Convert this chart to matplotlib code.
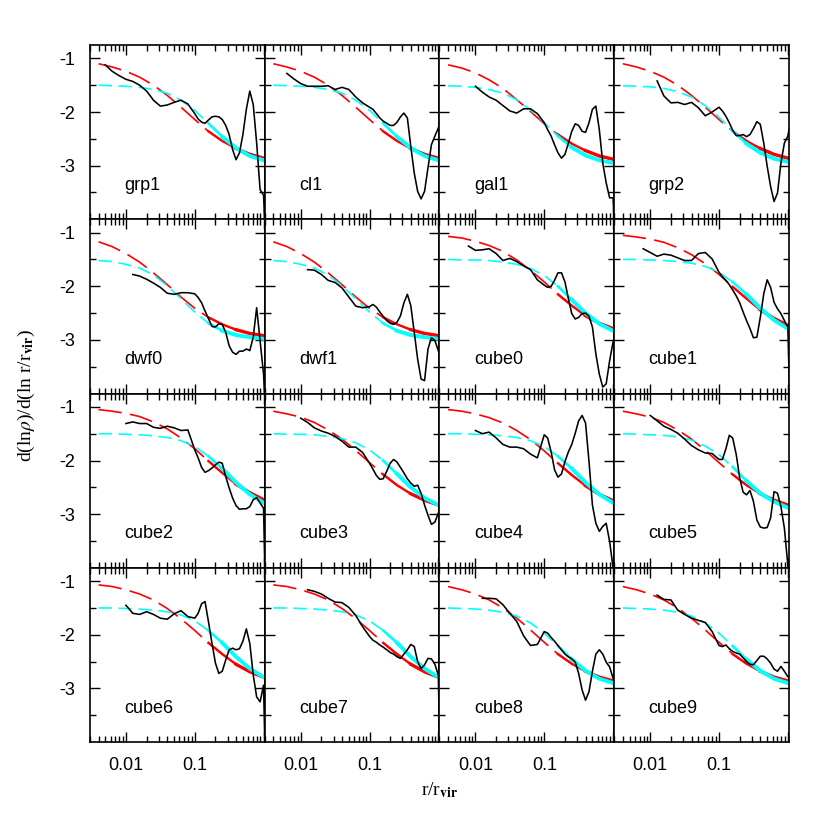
import numpy as np
import matplotlib
matplotlib.use('Agg')
import matplotlib.pyplot as plt
from matplotlib.ticker import FixedLocator, FixedFormatter, NullFormatter

plt.rcParams['font.family'] = ['Liberation Sans', 'DejaVu Sans']
plt.rcParams['mathtext.fontset'] = 'stix'
plt.rcParams['axes.unicode_minus'] = False

nan = float('nan')

# panel names, row by row
NAMES = ['grp1', 'cl1', 'gal1', 'grp2',
         'dwf0', 'dwf1', 'cube0', 'cube1',
         'cube2', 'cube3', 'cube4', 'cube5',
         'cube6', 'cube7', 'cube8', 'cube9']

# radii where the fitted slopes were read
R_FIT = [0.004, 0.0063, 0.01, 0.0158, 0.0251, 0.0398, 0.0631, 0.1, 0.158, 0.251, 0.398, 0.631, 1.0]

# red (long dash) fit slopes, grouped by shape
RED_A = [-1.10, -1.16, -1.24, -1.35, -1.50, -1.69, -1.91, -2.14, -2.36, -2.54, -2.68, -2.79, -2.86]
RED_B = [-1.12, -1.18, -1.27, -1.40, -1.56, -1.77, -1.99, -2.22, -2.42, -2.59, -2.72, -2.82, -2.88]
RED_C = [-1.17, -1.26, -1.39, -1.55, -1.75, -1.97, -2.20, -2.41, -2.58, -2.71, -2.81, -2.88, -2.92]
RED_D = [-1.08, -1.13, -1.19, -1.29, -1.43, -1.60, -1.81, -2.04, -2.26, -2.46, -2.62, -2.74, -2.83]
RED_E = [-1.07, -1.10, -1.16, -1.24, -1.35, -1.51, -1.70, -1.92, -2.15, -2.36, -2.55, -2.69, -2.79]
RED_F = [-1.05, -1.08, -1.13, -1.20, -1.30, -1.44, -1.61, -1.82, -2.05, -2.27, -2.47, -2.63, -2.75]
RED_G = [-1.05, -1.08, -1.12, -1.18, -1.28, -1.41, -1.58, -1.78, -2.01, -2.23, -2.44, -2.60, -2.73]

# cyan (short dash) fit slopes
CYAN_A = [-1.52, -1.54, -1.59, -1.66, -1.79, -1.99, -2.23, -2.48, -2.69, -2.83, -2.91, -2.95, -2.98]
CYAN_B = [-1.51, -1.52, -1.54, -1.58, -1.65, -1.77, -1.96, -2.20, -2.45, -2.66, -2.81, -2.90, -2.95]
CYAN_C = [-1.51, -1.52, -1.53, -1.56, -1.62, -1.72, -1.88, -2.10, -2.36, -2.59, -2.76, -2.87, -2.93]
CYAN_D = [-1.50, -1.51, -1.52, -1.54, -1.58, -1.65, -1.78, -1.97, -2.21, -2.46, -2.67, -2.82, -2.90]
CYAN_E = [-1.50, -1.51, -1.52, -1.53, -1.56, -1.62, -1.73, -1.89, -2.12, -2.38, -2.61, -2.77, -2.88]
CYAN_F = [-1.50, -1.51, -1.51, -1.52, -1.55, -1.59, -1.67, -1.80, -2.00, -2.25, -2.50, -2.70, -2.83]
CYAN_G = [-1.50, -1.50, -1.51, -1.52, -1.54, -1.57, -1.63, -1.74, -1.92, -2.15, -2.41, -2.63, -2.79]

RED_FIT = [RED_A, RED_A, RED_B, RED_A,
           RED_C, RED_C, RED_E, RED_G,
           RED_G, RED_D, RED_F, RED_D,
           RED_E, RED_E, RED_A, RED_A]
CYAN_FIT = [CYAN_D, CYAN_D, CYAN_B, CYAN_C,
            CYAN_A, CYAN_A, CYAN_F, CYAN_G,
            CYAN_G, CYAN_F, CYAN_G, CYAN_E,
            CYAN_G, CYAN_G, CYAN_D, CYAN_D]

# radii of the measured (black) slope curves
R_DATA = [0.005, 0.0063, 0.0079, 0.01, 0.0126, 0.0158, 0.02, 0.0251, 0.0316, 0.0398,
          0.0501, 0.0631, 0.0794, 0.1, 0.112, 0.126, 0.141, 0.158, 0.178, 0.2,
          0.224, 0.251, 0.282, 0.316, 0.355, 0.398, 0.447, 0.501, 0.562, 0.631,
          0.708, 0.794, 0.891, 1.0, 1.05]

BLACK = [
    # grp1
    [-1.12, -1.24, -1.32, -1.39, -1.43, -1.50, -1.61, -1.78, -1.89, -1.87, -1.82, -1.78, -1.85,
     -2.03, -2.13, -2.19, -2.21, -2.15, -2.09, -2.08, -2.09, -2.14, -2.25, -2.42, -2.70, -2.89,
     -2.76, -2.42, -1.95, -1.61, -1.86, -2.58, -3.45, -3.55, -4.2],
    # cl1
    [nan, -1.28, -1.38, -1.47, -1.52, -1.52, -1.52, -1.51, -1.58, -1.54, -1.58, -1.72, -1.83,
     -1.91, -1.95, -2.03, -2.11, -2.17, -2.21, -2.25, -2.25, -2.19, -2.09, -2.02, -2.11, -2.64,
     -3.14, -3.48, -3.62, -3.48, -3.04, -2.61, -2.45, -2.30, -2.2],
    # gal1
    [nan, nan, nan, -1.52, -1.63, -1.72, -1.78, -1.88, -1.98, -2.02, -1.94, -1.94, -2.03,
     -2.20, -2.33, -2.45, -2.61, -2.76, -2.86, -2.79, -2.58, -2.36, -2.22, -2.25, -2.36, -2.38,
     -2.20, -1.95, -1.89, -2.33, -2.95, -3.32, -3.60, -3.60, -4.2],
    # grp2
    [nan, nan, nan, nan, -1.42, -1.70, -1.83, -1.82, -1.86, -1.82, -1.92, -2.07, -2.00,
     -1.91, -1.98, -2.08, -2.20, -2.34, -2.44, -2.44, -2.42, -2.46, -2.42, -2.31, -2.18, -2.23,
     -2.58, -3.01, -3.39, -3.67, -3.51, -2.95, -2.58, -2.45, -2.3],
    # dwf0
    [nan, nan, nan, nan, -1.78, -1.81, -1.87, -1.94, -2.02, -2.13, -2.15, -2.12, -2.12,
     -2.14, -2.21, -2.31, -2.46, -2.60, -2.75, -2.76, -2.70, -2.71, -2.86, -3.11, -3.23, -3.27,
     -3.21, -3.21, -3.17, -3.20, -2.95, -2.40, -3.02, -3.64, -4.2],
    # dwf1
    [nan, nan, nan, nan, -1.69, -1.70, -1.78, -1.89, -1.93, -2.03, -2.20, -2.37, -2.40,
     -2.38, -2.34, -2.39, -2.48, -2.56, -2.64, -2.69, -2.71, -2.67, -2.55, -2.31, -2.15, -2.36,
     -2.86, -3.36, -3.73, -3.76, -3.17, -2.96, -3.01, -3.20, -3.3],
    # cube0
    [nan, nan, -1.25, -1.33, -1.32, -1.30, -1.39, -1.52, -1.48, -1.54, -1.62, -1.69, -1.88,
     -1.98, -2.02, -2.00, -1.89, -1.75, -1.75, -1.92, -2.23, -2.51, -2.61, -2.58, -2.51, -2.50,
     -2.56, -2.76, -3.26, -3.64, -3.88, -3.82, -3.39, -3.04, -2.95],
    # cube1
    [nan, nan, -1.30, -1.37, -1.44, -1.40, -1.42, -1.47, -1.52, -1.52, -1.39, -1.37, -1.49,
     -1.74, -1.82, -1.89, -1.97, -2.07, -2.18, -2.31, -2.48, -2.64, -2.79, -2.96, -2.95, -2.58,
     -2.14, -1.88, -2.02, -2.30, -2.42, -2.51, -2.64, -2.76, -3.8],
    # cube2
    [nan, nan, nan, -1.31, -1.28, -1.31, -1.31, -1.38, -1.40, -1.36, -1.39, -1.44, -1.43,
     -1.80, -1.95, -2.13, -2.22, -2.19, -2.14, -2.08, -2.03, -2.05, -2.30, -2.51, -2.70, -2.84,
     -2.91, -2.90, -2.90, -2.86, -2.73, -2.69, -2.79, -2.89, -4.2],
    # cube3
    [nan, nan, nan, -1.21, -1.29, -1.39, -1.45, -1.49, -1.55, -1.64, -1.75, -1.75, -1.85,
     -2.05, -2.16, -2.28, -2.35, -2.34, -2.20, -2.05, -1.98, -2.03, -2.13, -2.23, -2.34, -2.42,
     -2.48, -2.46, -2.61, -2.83, -3.02, -3.19, -3.15, -2.98, -2.95],
    # cube4
    [nan, nan, nan, -1.44, -1.50, -1.47, -1.58, -1.70, -1.75, -1.75, -1.78, -1.88, -1.95,
     -1.52, -1.58, -1.84, -2.17, -2.31, -2.25, -2.02, -1.84, -1.70, -1.49, -1.26, -1.16, -1.30,
     -2.02, -2.83, -3.17, -3.32, -3.23, -3.17, -3.51, -4.0, -4.3],
    # cube5
    [nan, nan, nan, -1.16, -1.26, -1.36, -1.42, -1.49, -1.60, -1.72, -1.80, -1.86, -1.87,
     -1.98, -1.98, -1.78, -1.53, -1.58, -1.89, -2.33, -2.59, -2.64, -2.56, -2.76, -3.11, -3.24,
     -3.26, -3.25, -3.07, -2.58, -2.61, -2.86, -3.26, -3.95, -4.3],
    # cube6
    [nan, nan, nan, -1.45, -1.60, -1.62, -1.57, -1.62, -1.69, -1.71, -1.61, -1.55, -1.66,
     -1.69, -1.60, -1.42, -1.38, -1.75, -2.16, -2.53, -2.72, -2.68, -2.47, -2.28, -2.25, -2.28,
     -2.26, -2.12, -1.89, -2.16, -2.75, -3.16, -3.25, -2.94, -4.2],
    # cube7
    [nan, nan, nan, nan, -1.16, -1.19, -1.24, -1.32, -1.39, -1.40, -1.49, -1.64, -1.85,
     -2.03, -2.10, -2.14, -2.19, -2.23, -2.28, -2.33, -2.36, -2.41, -2.44, -2.36, -2.28, -2.18,
     -2.22, -2.50, -2.63, -2.56, -2.44, -2.45, -2.55, -2.75, -4.2],
    # cube8
    [nan, nan, nan, nan, -1.32, -1.32, -1.33, -1.44, -1.60, -1.75, -2.02, -2.20, -2.18,
     -1.94, -1.97, -2.05, -2.12, -2.20, -2.28, -2.36, -2.41, -2.45, -2.51, -2.72, -3.03, -3.22,
     -3.06, -2.68, -2.36, -2.28, -2.36, -2.51, -2.60, -2.81, -2.9],
    # cube9
    [nan, nan, nan, nan, -1.26, -1.34, -1.35, -1.54, -1.62, -1.69, -1.73, -1.77, -1.94,
     -2.20, -2.22, -2.19, -2.26, -2.31, -2.34, -2.36, -2.43, -2.50, -2.55, -2.56, -2.48, -2.40,
     -2.40, -2.45, -2.53, -2.64, -2.68, -2.59, -2.68, -2.78, -2.8],
]

X_TICK_LABELS = ['0.01', '0.1', '']
Y_TICK_LABELS = ['-1', '-2', '-3']

fig, axes = plt.subplots(4, 4, figsize=(8.3, 8.3), dpi=100, sharex=True, sharey=True)
fig.subplots_adjust(left=0.1084, right=0.9506, top=0.9458, bottom=0.106,
                    wspace=0, hspace=0)

rf = np.array(R_FIT)
rd = np.array(R_DATA)
for i, ax in enumerate(axes.flat):
    red = np.array(RED_FIT[i])
    cyan = np.array(CYAN_FIT[i])
    # red fit: long dashes, getting thicker (noisy) at large r
    ax.plot(rf, red, color='red', lw=1.2, dashes=(14, 5))
    ax.plot(rf[8:], red[8:], color='red', lw=1.7)
    ax.plot(rf[10:], red[10:], color='red', lw=2.4)
    # cyan fit: short dashes
    ax.plot(rf, cyan, color='cyan', lw=1.2, dashes=(8, 4))
    ax.plot(rf[8:], cyan[8:], color='cyan', lw=1.9)
    ax.plot(rf[9:], cyan[9:], color='cyan', lw=2.8)
    # measured slope
    ax.plot(rd, BLACK[i], color='black', lw=1.15)

    ax.text(0.0095, -3.45, NAMES[i], fontsize=13, ha='left', va='baseline')

    ax.set_xscale('log')
    ax.set_xlim(0.003, 1.04)
    ax.set_ylim(-4.0, -0.75)
    ax.xaxis.set_major_locator(FixedLocator([0.01, 0.1, 1.0]))
    ax.xaxis.set_major_formatter(FixedFormatter(X_TICK_LABELS))
    ax.xaxis.set_minor_locator(FixedLocator([k * 10.0 ** e for e in (-3, -2, -1) for k in range(2, 10)]))
    ax.xaxis.set_minor_formatter(NullFormatter())
    ax.yaxis.set_major_locator(FixedLocator([-1, -2, -3]))
    ax.yaxis.set_major_formatter(FixedFormatter(Y_TICK_LABELS))
    ax.yaxis.set_minor_locator(FixedLocator([-1.5, -2.5, -3.5]))
    ax.tick_params(which='both', direction='in', top=True, right=True, width=1.0,
                   labelsize=13, pad=11)
    ax.tick_params(which='major', length=7)
    ax.tick_params(which='minor', length=4)
    for s in ax.spines.values():
        s.set_linewidth(1.2)

fig.text(26 / 830, 1 - 395 / 830, r'd(ln$\rho$)/d(ln r/r$_{\mathbf{vir}}$)',
         rotation=90, ha='center', va='center', fontsize=14, family='Liberation Serif')
fig.text(440 / 830, 1 - 790 / 830, r'r/r$_{\mathbf{vir}}$',
         ha='center', va='center', fontsize=14, family='Liberation Serif')

fig.savefig('out.png', dpi=100)
